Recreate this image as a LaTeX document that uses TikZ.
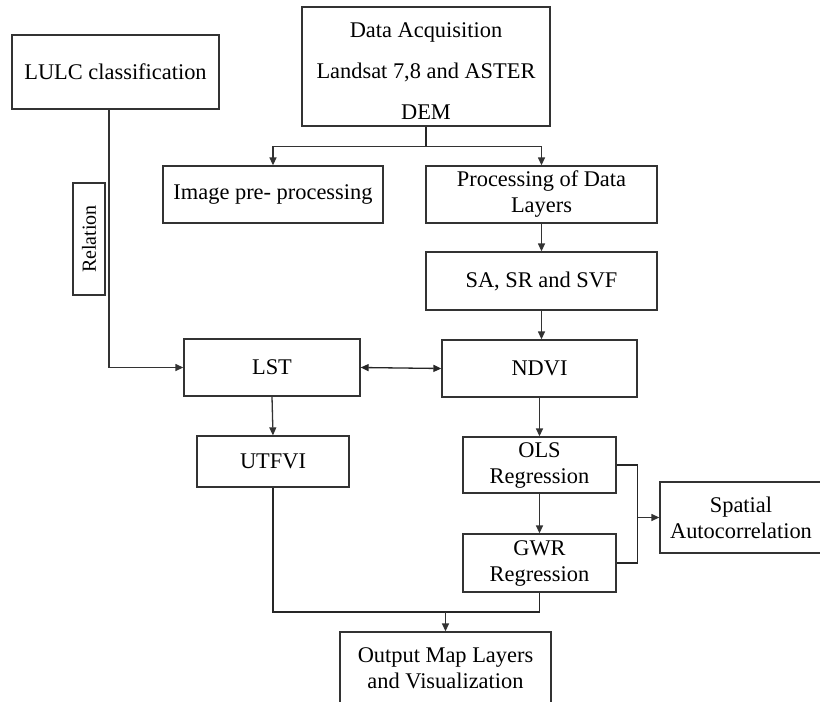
\documentclass[tikz,border=0pt]{standalone}
\usepackage{fontspec}
\setmainfont{Liberation Serif}
\usetikzlibrary{arrows.meta, positioning}

\begin{document}
\begin{tikzpicture}[x=1pt, y=-1pt, line width=1.3pt, draw=black!85,
    box/.style={draw=black!80, rectangle, inner sep=0pt, align=center,
      font=\fontsize{22.4}{26}\selectfont},
    arr/.style={-{Triangle[length=8pt,width=7pt]}, draw=black!80}]
        \clip (0,0) rectangle (820,702);
        \fill[white] (0,0) rectangle (820,702);

        \node[box, minimum width=207pt, minimum height=74pt] (lulc) at (115.5,72) {LULC classification};
        \node[box, minimum width=248pt, minimum height=119pt,
          label={[align=center, yshift=-5pt, font=\fontsize{22.4}{41}\selectfont]center:Data Acquisition\\Landsat 7,8 and ASTER\\DEM}] (acq) at (426,66.5) {};
        \node[box, minimum width=220pt, minimum height=57pt] (pre) at (273,194.5) {Image pre- processing};
        \node[box, minimum width=231pt, minimum height=57pt] (proc) at (541.5,194.5) {Processing of Data\\Layers};
        \node[box, minimum width=231pt, minimum height=58pt] (sasr) at (541.5,281) {SA, SR and SVF};
        \node[box, minimum width=195pt, minimum height=57pt] (ndvi) at (539.5,368.5) {NDVI};
        \node[box, minimum width=176pt, minimum height=57pt] (lst) at (272,367.5) {LST};
        \node[box, minimum width=152pt, minimum height=51pt] (utfvi) at (273,461.5) {UTFVI};
        \node[box, minimum width=153pt, minimum height=56pt] (ols) at (539.5,465) {OLS\\Regression};
        \node[box, minimum width=153pt, minimum height=58pt] (gwr) at (539.5,563) {GWR\\Regression};
        \node[box, minimum width=162pt, minimum height=71pt] (spat) at (741,517.5) {Spatial\\Autocorrelation};
        \node[box, minimum width=211pt, minimum height=73pt] (outp) at (445.5,668.5) {Output Map Layers\\and Visualization};
        \node[box, minimum width=32pt, minimum height=112pt, font=\fontsize{20}{24}\selectfont] (rel) at (89,239) {\rotatebox{90}{Relation}};

        \coordinate (split) at ([yshift=-20pt]acq.south);
        \draw (acq.south) -- (split);
        \draw[arr] (split) -| (pre.north);
        \draw[arr] (split) -| (proc.north);
        \draw[arr] (proc.south) -- (sasr.north);
        \draw[arr] (sasr.south) -- (sasr.south |- ndvi.north);
        \draw[{Triangle[length=8pt,width=7pt]}-{Triangle[length=8pt,width=7pt]}] (lst.east) -- (ndvi.west);
        \draw[arr] ([xshift=-6.5pt]lulc.south) |- (lst.west);
        \draw[arr] (lst.south) -- (utfvi.north);
        \draw[arr] (ndvi.south) -- (ols.north);
        \draw[arr] (ols.south) -- (gwr.north);

        \coordinate (join) at ([xshift=21pt]ols.east |- spat.west);
        \draw (ols.east) -| (join) |- (gwr.east);
        \draw[arr] (join) -- (spat.west);

        \coordinate (merge) at (outp.north |- 0,612);
        \draw (utfvi.south) |- (merge) -| (gwr.south);
        \draw[arr] (merge) -- (outp.north);
      \end{tikzpicture}
\end{document}
